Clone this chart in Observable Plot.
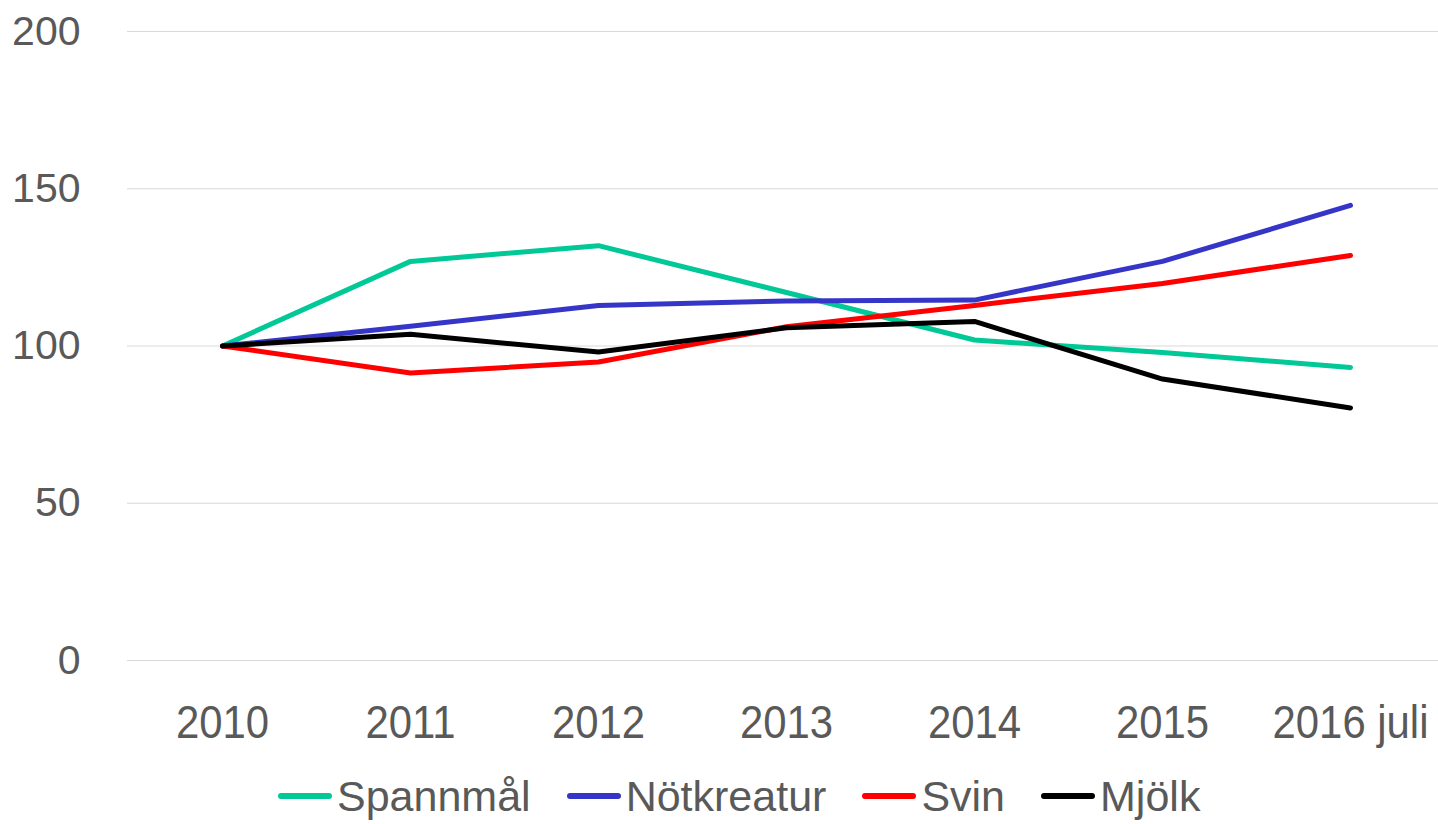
<!DOCTYPE html>
<html>
<head>
<meta charset="utf-8">
<script src="https://cdn.jsdelivr.net/npm/d3@7"></script>
<script src="https://cdn.jsdelivr.net/npm/@observablehq/plot@0.6"></script>
<style>
  html, body { margin: 0; padding: 0; background: #fff; }
  #chart { width: 1438px; height: 760px; }
  .legend { display: flex; justify-content: flex-start; align-items: center; height: 64px;
            font-family: "Liberation Sans", Arial, sans-serif; padding-top: 8px; box-sizing: border-box;
            font-size: 43px; color: #595959; padding-left: 278px; }
  .legend .item { display: flex; align-items: center; margin-right: 36px; }
  .legend svg { margin-right: 5px; }
</style>
</head>
<body>
<div id="chart"></div>
<script>
const years = ["2010", "2011", "2012", "2013", "2014", "2015", "2016 juli"];
const seriesNames = ["Spannmål", "Nötkreatur", "Svin", "Mjölk"];
const seriesColors = ["#00C896", "#3535C8", "#FF0000", "#000000"];
const spannmal = [100, 126.9, 131.9, 117.0, 101.9, 97.9, 93.2];
const notkreatur = [100, 106.3, 112.9, 114.3, 114.6, 126.9, 144.7];
const svin = [100, 91.4, 94.9, 106.1, 112.9, 119.9, 128.8];
const mjolk = [100, 103.7, 98.1, 105.8, 107.8, 89.5, 80.3];
const yTicks = [0, 50, 100, 150, 200];

const seriesValues = [spannmal, notkreatur, svin, mjolk];
const data = seriesNames.flatMap((name, i) =>
  years.map((year, j) => ({ series: name, year, value: seriesValues[i][j] }))
);

const chart = Plot.plot({
  width: 1438,
  height: 760,
  marginLeft: 127,
  marginRight: 0,
  marginTop: 31,
  marginBottom: 100,
  style: { fontFamily: "Liberation Sans, Arial, sans-serif", color: "#595959", background: "#fff" },
  x: { type: "point", domain: years, range: [220, 1352], padding: 0, label: null },
  y: { domain: [0, 200], ticks: yTicks, label: null },
  color: { domain: seriesNames, range: seriesColors },
  marks: [
    Plot.ruleY(yTicks, { stroke: "#d9d9d9", strokeWidth: 1.2 }),
    Plot.axisY({ ticks: yTicks, tickSize: 0, tickPadding: 47, fontSize: 41, label: null, fill: "#595959" }),
    Plot.axisX({ tickSize: 0, tickPadding: 45, fontSize: 46, label: null, fill: "#595959" }),
    Plot.line(data, { x: "year", y: "value", z: "series", stroke: "series",
      strokeWidth: 5, strokeLinejoin: "round", strokeLinecap: "round" })
  ]
});
document.getElementById("chart").appendChild(chart);

// slightly condensed x tick labels, scaled around each label's own anchor
chart.querySelectorAll('g[aria-label="x-axis tick label"] text').forEach(t => {
  const x = +t.getAttribute("x") || 0;
  const prev = t.getAttribute("transform") || "";
  t.setAttribute("transform", `${prev} translate(${x},0) scale(0.91,1) translate(${-x},0)`);
});

const legend = document.createElement("div");
legend.className = "legend";
seriesNames.forEach((name, i) => {
  const item = document.createElement("div");
  item.className = "item";
  item.innerHTML = `<svg width="54" height="10"><line x1="3" y1="5" x2="51" y2="5" stroke="${seriesColors[i]}" stroke-width="6" stroke-linecap="round"/></svg><span>${name}</span>`;
  legend.appendChild(item);
});
document.body.appendChild(legend);
</script>
</body>
</html>
